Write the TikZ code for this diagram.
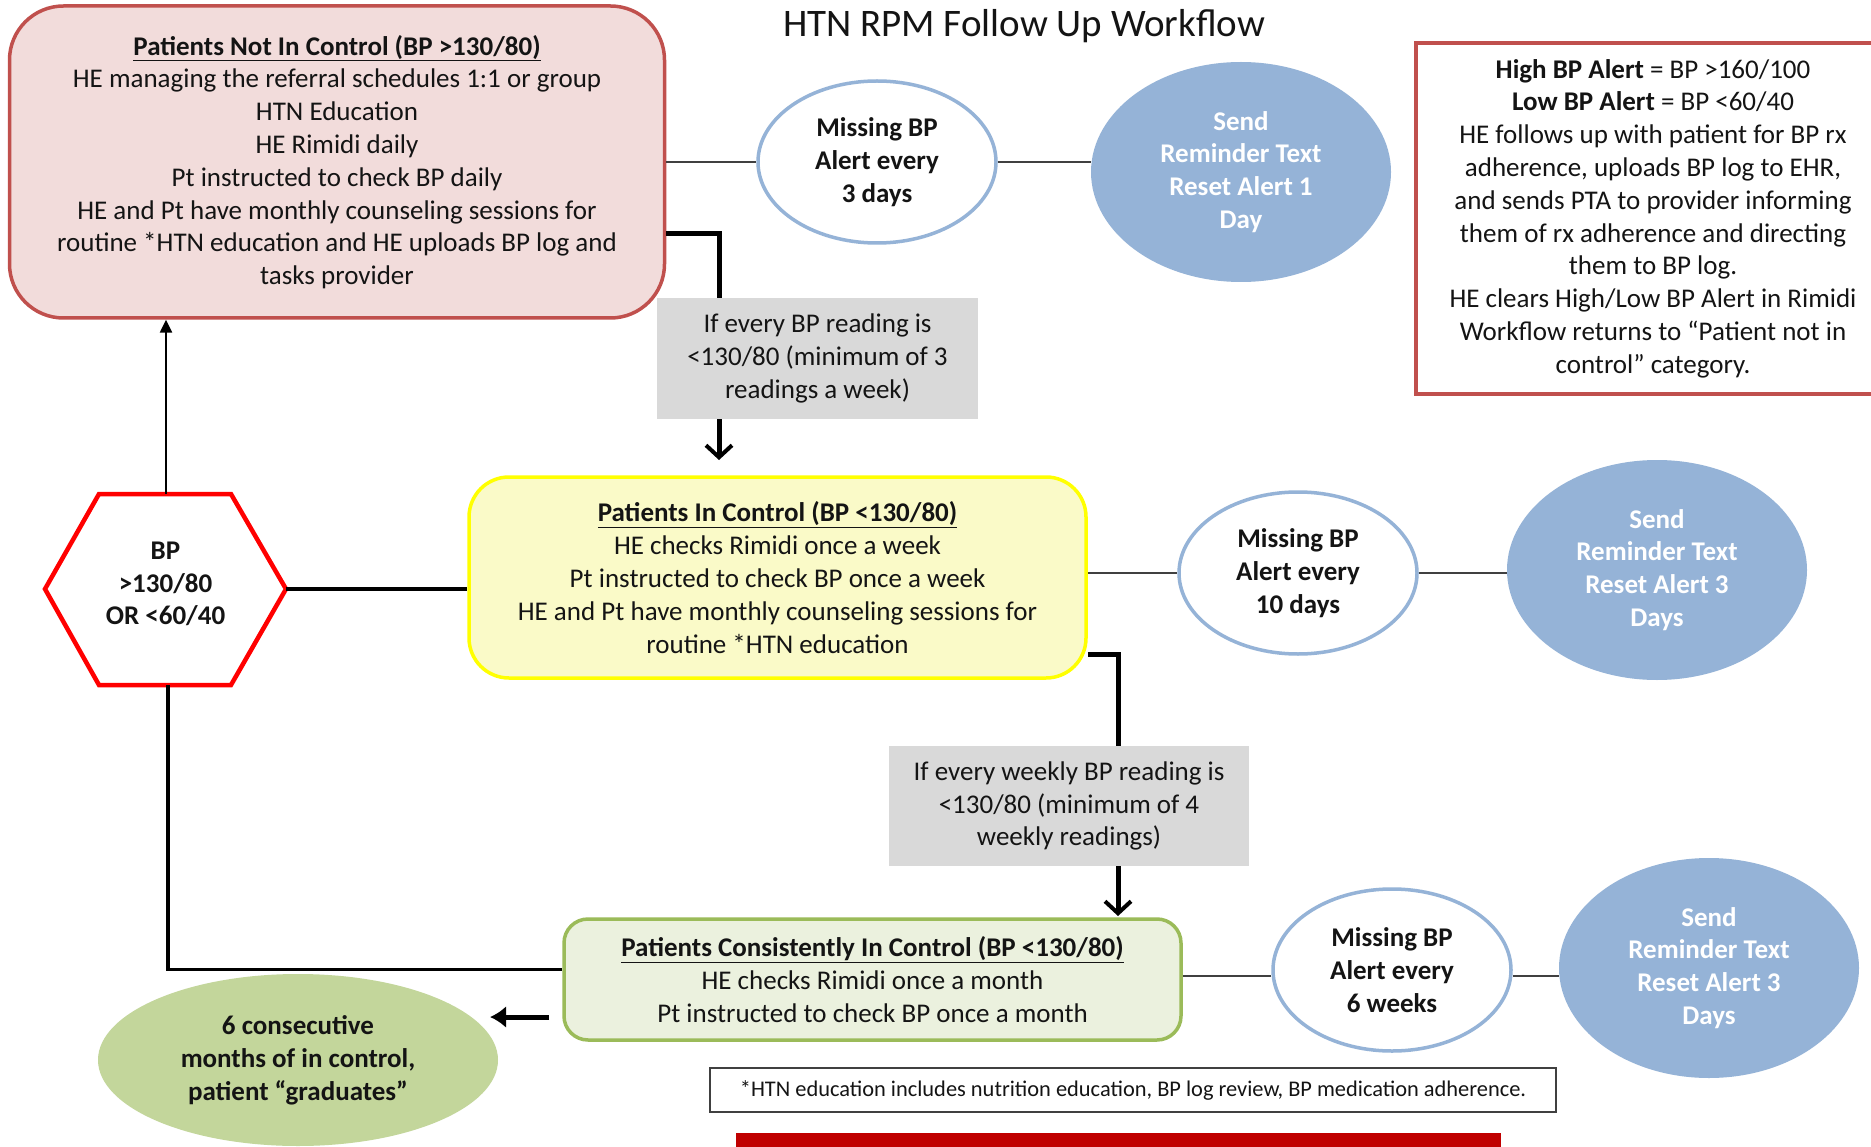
\documentclass[tikz,border=0pt]{standalone}
\usepackage{fontspec}
\setmainfont{Carlito}
\usetikzlibrary{shapes.geometric,arrows.meta}
\definecolor{redborder}{HTML}{C0504D}
\definecolor{redfill}{HTML}{F2DCDB}
\definecolor{yelfill}{HTML}{FAFAC8}
\definecolor{yelborder}{HTML}{FFFF00}
\definecolor{grnfill}{HTML}{EBF1DE}
\definecolor{grnborder}{HTML}{9BBB59}
\definecolor{grnell}{HTML}{C3D69B}
\definecolor{blueell}{HTML}{95B3D7}
\definecolor{grayfill}{HTML}{D9D9D9}
\definecolor{linegray}{HTML}{404040}
\definecolor{hexred}{HTML}{FF0000}
\definecolor{barred}{HTML}{C00000}
\definecolor{txtc}{HTML}{141414}
\tikzset{
  txt/.style={font=\fontsize{27}{32.8}\selectfont, align=center, text=txtc, inner sep=0pt},
  btxt/.style={txt, font=\fontsize{27}{32.8}\selectfont\bfseries},
  notinbox/.style={txt, draw=redborder, fill=redfill, line width=3.5pt, rounded corners=54pt},
  inbox/.style={txt, draw=yelborder, fill=yelfill, line width=3.5pt, rounded corners=40pt},
  consbox/.style={txt, draw=grnborder, fill=grnfill, line width=3.5pt, rounded corners=24pt},
  graybox/.style={txt, fill=grayfill},
  alertbox/.style={txt, draw=redborder, line width=3.5pt, fill=white},
  missell/.style={btxt, ellipse, draw=blueell, line width=3.5pt, fill=white, minimum width=238pt, minimum height=162pt},
  sendell/.style={btxt, ellipse, fill=blueell, text=white, minimum width=300pt, minimum height=220pt},
  gradell/.style={btxt, ellipse, fill=grnell, minimum width=400pt, minimum height=172pt},
  thinlink/.style={draw=linegray, line width=2pt},
  flowlink/.style={draw=black, line width=5pt},
  downarrow/.style={flowlink, -{Straight Barb[length=12pt,width=26pt,line width=4pt]}},
}
\begin{document}
\begin{tikzpicture}[x=1pt,y=-1pt]
\useasboundingbox[fill=white] (0,0) rectangle (1871,1147);

% title
\node[txt, font=\fontsize{39}{46}\selectfont] (title) at (1024,26) {HTN RPM Follow Up Workflow};

% main boxes
\node[notinbox, minimum width=655pt, minimum height=312pt] (nic) at (337,162)
 {\textbf{\underline{Patients Not In Control (BP >130/80)}}\\
  HE managing the referral schedules 1:1 or group\\
  HTN Education\\
  HE Rimidi daily\\
  Pt instructed to check BP daily\\
  HE and Pt have monthly counseling sessions for\\
  routine *HTN education and HE uploads BP log and\\
  tasks provider};

\node[inbox, minimum width=617pt, minimum height=201pt] (ic) at (777.5,577.5)
 {\textbf{\underline{Patients In Control (BP <130/80)}}\\
  HE checks Rimidi once a week\\
  Pt instructed to check BP once a week\\
  HE and Pt have monthly counseling sessions for\\
  routine *HTN education};

\node[consbox, minimum width=617pt, minimum height=121pt] (cc) at (872.5,979.5)
 {\textbf{\underline{Patients Consistently In Control (BP <130/80)}}\\
  HE checks Rimidi once a month\\
  Pt instructed to check BP once a month};

% condition boxes
\node[graybox, minimum width=321pt, minimum height=121pt] (g1) at (817.5,358.5)
 {If every BP reading is\\ <130/80 (minimum of 3\\ readings a week)};
\node[graybox, minimum width=360pt, minimum height=120pt] (g2) at (1069,806)
 {If every weekly BP reading is\\ <130/80 (minimum of 4\\ weekly readings)};

% alert box
\node[alertbox, minimum width=474pt, minimum height=351pt] (alert) at (1653,218.5)
 {\textbf{High BP Alert} = BP >160/100\\
  \textbf{Low BP Alert} = BP <60/40\\
  HE follows up with patient for BP rx\\
  adherence, uploads BP log to EHR,\\
  and sends PTA to provider informing\\
  them of rx adherence and directing\\
  them to BP log.\\
  HE clears High/Low BP Alert in Rimidi\\
  Workflow returns to “Patient not in\\
  control” category.};

% ellipses
\node[missell] (m1) at (877,162) {Missing BP\\Alert every\\3 days};
\node[sendell] (s1) at (1241,172) {Send\\Reminder Text\\Reset Alert 1\\Day};
\node[missell] (m2) at (1298,573) {Missing BP\\Alert every\\10 days};
\node[sendell] (s2) at (1657,570) {Send\\Reminder Text\\Reset Alert 3\\Days};
\node[missell] (m3) at (1392,970) {Missing BP\\Alert every\\6 weeks};
\node[sendell] (s3) at (1709,968) {Send\\Reminder Text\\Reset Alert 3\\Days};
\node[gradell] (grad) at (298,1060) {6 consecutive\\months of in control,\\patient “graduates”};

% hexagon
\coordinate (hT) at (166,494);
\coordinate (hR) at (286,589);
\coordinate (hB) at (168,685);
\draw[draw=hexred, line width=4.5pt, fill=white, line join=miter]
  (99,494) -- (231,494) -- (hR) -- (231,685) -- (99,685) -- (45,589) -- cycle;
\node[btxt] (hex) at (165.5,584) {BP\\>130/80\\OR <60/40};

% footnote and bar
\node[txt, font=\fontsize{22.4}{26}\selectfont, draw=linegray, line width=1.5pt, fill=white,
      minimum width=846pt, minimum height=44pt] (fn) at (1133,1090)
 {*HTN education includes nutrition education, BP log review, BP medication adherence.};
\fill[barred] (736,1133) rectangle (1501,1170);

% thin links to alert ellipses
\draw[thinlink] (nic.east) -- (m1.west);
\draw[thinlink] (m1.east) -- (m1.east -| s1.west);
\draw[thinlink] (m2.west -| ic.east) -- (m2.west);
\draw[thinlink] (m2.east) -- (m2.east -| s2.west);
\coordinate (m3l) at ([yshift=-6pt]m3.west);
\coordinate (m3r) at ([yshift=-6pt]m3.east);
\draw[thinlink] (m3l -| cc.east) -- (m3l);
\draw[thinlink] (m3r) -- (m3r -| s3.west);

% hexagon links
\draw[draw=black, line width=2.5pt, -{Triangle[length=13pt,width=12pt]}] (hT) -- (hT |- nic.south);
\draw[draw=black, line width=3.5pt] (hR) -- (hR -| ic.west);
\coordinate (cl) at ([yshift=10pt]cc.west);
\draw[draw=black, line width=3.5pt] (hB) -- (hB |- cl) -- (cl);

% flow arrows
\coordinate (a1) at (719,234);
\draw[flowlink] (a1 -| nic.east) -- (a1) -- (a1 |- g1.north);
\coordinate (a1e) at (719,460);
\draw[downarrow] (a1 |- g1.south) -- (a1e);
\coordinate (a2) at (1118,654);
\draw[flowlink] (a2 -| ic.east) -- (a2) -- (a2 |- g2.north);
\coordinate (a2e) at (1118,916);
\draw[downarrow] (a2 |- g2.south) -- (a2e);
\coordinate (la1) at (549,1017);
\coordinate (la2) at (490,1017);
\draw[flowlink, -{Latex[length=16pt,width=22pt]}] (la1) -- (la2);
\end{tikzpicture}
\end{document}
